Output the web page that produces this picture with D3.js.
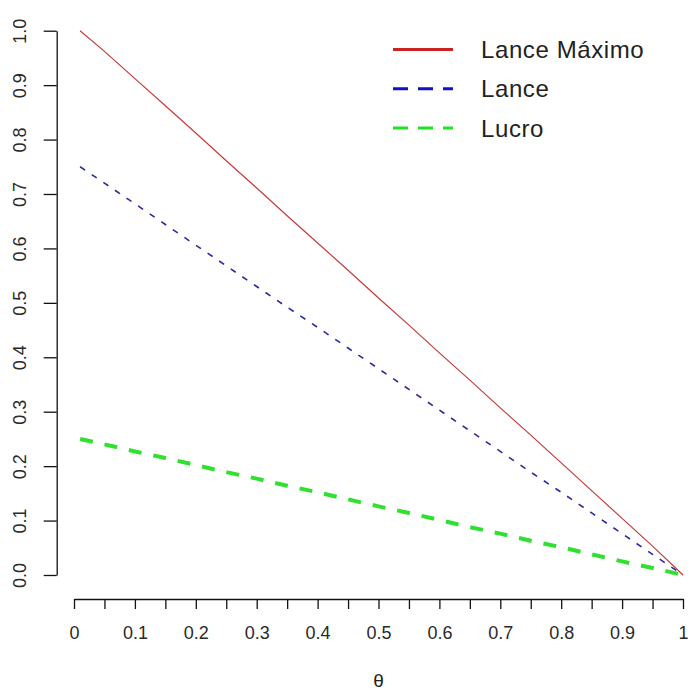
<!DOCTYPE html>
<html>
<head>
<meta charset="utf-8">
<script src="https://cdn.jsdelivr.net/npm/d3@7/dist/d3.min.js"></script>
<style>
  html, body { margin: 0; padding: 0; background: #fff; }
  svg { display: block; }
  text { font-family: "Liberation Sans", Arial, sans-serif; fill: #222; }
</style>
</head>
<body>
<svg id="chart" width="688" height="691"></svg>
<script>
// θ grid and the three curves
const theta = [0.01, 0.05, 0.10, 0.15, 0.20, 0.25, 0.30, 0.35, 0.40, 0.45, 0.50,
               0.55, 0.60, 0.65, 0.70, 0.75, 0.80, 0.85, 0.90, 0.95, 1.00];
const lanceMaximo = [1.000, 0.962, 0.912, 0.862, 0.812, 0.761, 0.711, 0.660, 0.610, 0.560, 0.509,
                     0.459, 0.408, 0.358, 0.307, 0.257, 0.206, 0.155, 0.104, 0.053, 0.000];
const lance = [0.750, 0.720, 0.682, 0.644, 0.606, 0.568, 0.530, 0.492, 0.455, 0.417, 0.379,
               0.341, 0.303, 0.265, 0.227, 0.189, 0.152, 0.114, 0.076, 0.038, 0.000];
const lucro = [0.250, 0.240, 0.227, 0.215, 0.202, 0.189, 0.177, 0.164, 0.152, 0.139, 0.126,
               0.114, 0.101, 0.088, 0.076, 0.063, 0.051, 0.038, 0.025, 0.013, 0.000];

const seriesNames = ["Lance Máximo", "Lance", "Lucro"];

// axis ticks
const xTickValues = [0, 0.05, 0.1, 0.15, 0.2, 0.25, 0.3, 0.35, 0.4, 0.45, 0.5,
                     0.55, 0.6, 0.65, 0.7, 0.75, 0.8, 0.85, 0.9, 0.95, 1];
const xTickLabels = ["0", "", "0.1", "", "0.2", "", "0.3", "", "0.4", "", "0.5",
                     "", "0.6", "", "0.7", "", "0.8", "", "0.9", "", "1"];
const yTickValues = [0, 0.1, 0.2, 0.3, 0.4, 0.5, 0.6, 0.7, 0.8, 0.9, 1.0];
const yTickLabels = ["0.0", "0.1", "0.2", "0.3", "0.4", "0.5", "0.6", "0.7", "0.8", "0.9", "1.0"];
const xTitle = "θ";

const svg = d3.select("#chart");

const x = d3.scaleLinear().domain([0, 1]).range([74, 683]);
const y = d3.scaleLinear().domain([0, 1]).range([575, 30.7]);

// y axis (labels parallel to the axis)
const yAxisG = svg.append("g")
  .attr("transform", "translate(56.7,0)")
  .call(d3.axisLeft(y).tickValues(yTickValues).tickSize(13).tickSizeOuter(0)
        .tickFormat((d, i) => yTickLabels[i]));
yAxisG.select(".domain").attr("stroke", "#111").attr("stroke-width", 1.3);
yAxisG.selectAll(".tick line").attr("stroke", "#111").attr("stroke-width", 1.3);
yAxisG.selectAll(".tick text")
  .attr("x", null).attr("dy", null)
  .attr("text-anchor", "middle")
  .attr("transform", "translate(-36.7,0) rotate(-90)")
  .attr("dy", "0.36em")
  .style("font-size", "18px")
  .style("fill", "#2a2a2a");

// x axis
const xAxisG = svg.append("g")
  .attr("transform", "translate(0,599)")
  .call(d3.axisBottom(x).tickValues(xTickValues).tickSize(10).tickSizeOuter(0)
        .tickFormat((d, i) => xTickLabels[i]));
xAxisG.select(".domain").attr("stroke", "#111").attr("stroke-width", 1.3);
xAxisG.selectAll(".tick line").attr("stroke", "#111").attr("stroke-width", 1.3);
xAxisG.selectAll(".tick text")
  .attr("y", 34).attr("dy", "0.36em")
  .style("font-size", "18px")
  .style("fill", "#2a2a2a");

svg.append("text")
  .attr("x", x(0.5)).attr("y", 680).attr("dy", "0.36em")
  .attr("text-anchor", "middle")
  .style("font-size", "19px")
  .text(xTitle);

// curves
const series = [
  { name: seriesNames[0], values: lanceMaximo, color: "#c83a3a", width: 1.2, dash: null,
    legendDash: null },
  { name: seriesNames[1], values: lance, color: "#2a2aa0", width: 1.6, dash: "6,8",
    legendDash: "15,10" },
  { name: seriesNames[2], values: lucro, color: "#2fe02f", width: 4, dash: "13,12",
    legendDash: "15,10" }
];
const legendColors = ["#cc2222", "#1010cc", "#22e022"];

const line = d3.line().x(d => x(d[0])).y(d => y(d[1]));

series.slice().reverse().forEach(s => {
  svg.append("path")
    .datum(theta.map((t, i) => [t, s.values[i]]))
    .attr("d", line)
    .attr("fill", "none")
    .attr("stroke", s.color)
    .attr("stroke-width", s.width)
    .attr("stroke-dasharray", s.dash);
});

// legend
const legend = svg.append("g");
series.forEach((s, i) => {
  const ly = 49.5 + i * 39.3;
  legend.append("line")
    .attr("x1", 393).attr("x2", 453).attr("y1", ly).attr("y2", ly)
    .attr("stroke", legendColors[i])
    .attr("stroke-width", 3)
    .attr("stroke-dasharray", s.legendDash);
  legend.append("text")
    .attr("x", 481).attr("y", ly).attr("dy", "0.36em")
    .style("font-size", "24px")
    .style("letter-spacing", "0.6px")
    .text(s.name);
});
</script>
</body>
</html>
